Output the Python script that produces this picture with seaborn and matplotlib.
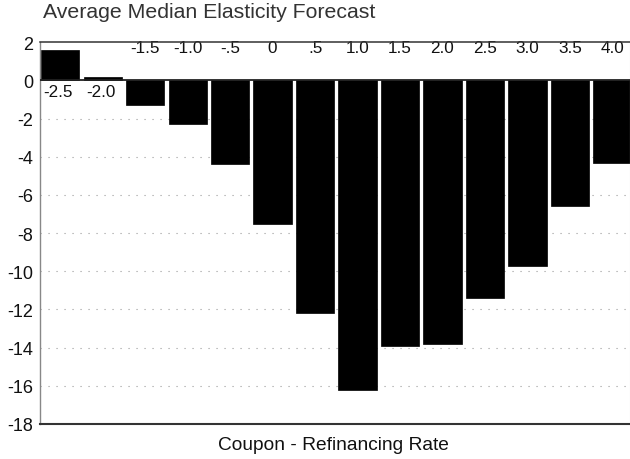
import matplotlib
matplotlib.use("Agg")
import matplotlib.pyplot as plt
import seaborn as sns
import pandas as pd

# Coupon minus refinancing rate buckets and average median elasticity
spread_labels = ["-2.5", "-2.0", "-1.5", "-1.0", "-.5", "0", ".5",
                 "1.0", "1.5", "2.0", "2.5", "3.0", "3.5", "4.0"]
elasticity = [1.6, 0.2, -1.3, -2.3, -4.4, -7.5, -12.2,
              -16.2, -13.9, -13.8, -11.4, -9.7, -6.6, -4.3]
y_ticks = [2, 0, -2, -4, -6, -8, -10, -12, -14, -16, -18]

df = pd.DataFrame({"spread": spread_labels, "elasticity": elasticity})

sns.set_theme(style="white")
plt.rcParams["font.family"] = ["Liberation Sans", "DejaVu Sans"]

fig = plt.figure(figsize=(6.3, 4.6), dpi=100)
ax = fig.add_axes([40 / 630, 35 / 460, 590 / 630, 381.7 / 460])

# dotted horizontal guides behind the bars
for v in y_ticks[2:-1]:
    ax.axhline(v, color="#9a9a9a", lw=0.8, linestyle=(0, (1, 6.2)), zorder=0)

sns.barplot(data=df, x="spread", y="elasticity", order=spread_labels,
            color="black", width=0.9, saturation=1, ax=ax, zorder=2,
            edgecolor="black", linewidth=0.5)

ax.axhline(0, color="#222222", lw=1.3, zorder=3)

ax.set_xlim(-0.476, 13.415)
ax.set_ylim(-18, 2)
ax.set_yticks(y_ticks)
ax.set_yticklabels([str(t) for t in y_ticks], fontsize=13, color="#111111")
ax.tick_params(axis="y", length=0, pad=5)
ax.set_xticks([])
ax.set_xlabel("")
ax.set_ylabel("")

# category labels sit beside the zero line or under the top rule
for i, (lab, val) in enumerate(zip(spread_labels, elasticity)):
    if val > 0:
        ax.text(i - 0.05, -0.6, lab, ha="center", va="center", fontsize=12.3,
                color="#111111", zorder=4)
    else:
        ax.text(i, 1.72, lab, ha="center", va="center", fontsize=12.3,
                color="#111111", zorder=4)

for side in ["top", "bottom", "left", "right"]:
    ax.spines[side].set_visible(True)
ax.spines["top"].set_color("#333333")
ax.spines["top"].set_linewidth(1.1)
ax.spines["top"].set_zorder(5)
ax.spines["bottom"].set_color("#333333")
ax.spines["bottom"].set_linewidth(1.5)
ax.spines["left"].set_color("#888888")
ax.spines["left"].set_linewidth(1.0)
ax.spines["right"].set_color("#dddddd")
ax.spines["right"].set_linewidth(0.8)

fig.text(43 / 630, 1 - 18.5 / 460, "Average Median Elasticity Forecast",
         ha="left", va="baseline", fontsize=15.3, color="#333333")
fig.text(333 / 630, 1 - 450 / 460, "Coupon - Refinancing Rate",
         ha="center", va="baseline", fontsize=13.8, color="#111111")

fig.savefig("out.png", dpi=100)
